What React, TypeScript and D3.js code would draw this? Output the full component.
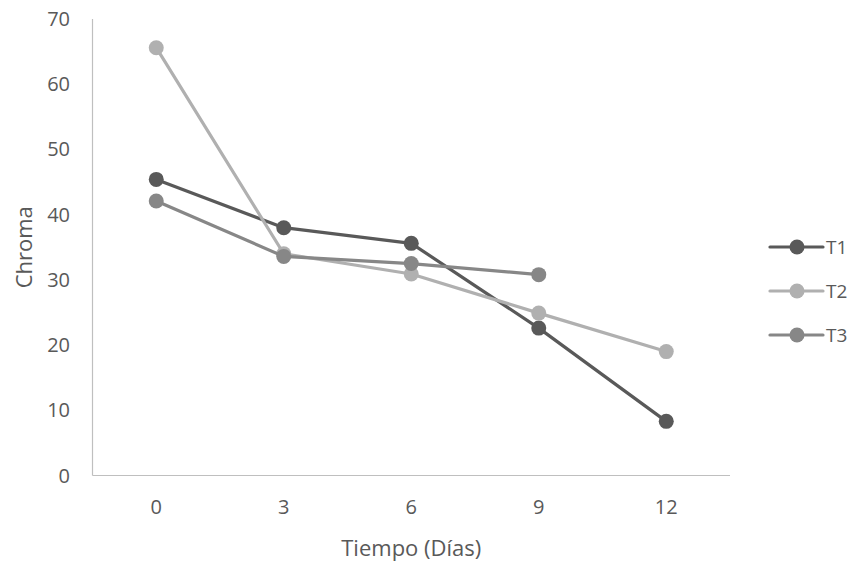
import React from "react";
import * as d3 from "d3";

const categories = ["0", "3", "6", "9", "12"];
const yTicks = [0, 10, 20, 30, 40, 50, 60, 70];
const seriesNames = ["T1", "T2", "T3"];
const t1Values: (number | null)[] = [45.4, 38.0, 35.6, 22.6, 8.3];
const t2Values: (number | null)[] = [65.6, 34.0, 30.9, 24.9, 19.0];
const t3Values: (number | null)[] = [42.1, 33.6, 32.5, 30.8, null];
const seriesColors = ["#595959", "#b0b0b0", "#878787"];

const W = 857;
const H = 563;
const left = 92.5;
const right = 730;
const top = 19;
const bottom = 475.5;
const FONT = "'Open Sans', 'DejaVu Sans', sans-serif";

export default function App() {
  const x = d3.scaleBand<string>().domain(categories).range([left, right]);
  const y = d3.scaleLinear().domain([0, 70]).range([bottom, top]);
  const cx = (c: string) => (x(c) as number) + x.bandwidth() / 2;
  const all = [t1Values, t2Values, t3Values];
  const line = d3
    .line<{ c: string; v: number | null }>()
    .defined((d) => d.v !== null)
    .x((d) => cx(d.c))
    .y((d) => y(d.v as number));

  const legendY = [247, 291, 335];

  return (
    <svg
      width={W}
      height={H}
      style={{ position: "absolute", left: 0, top: 0, background: "#fff" }}
      fontFamily={FONT}
    >
      <rect width={W} height={H} fill="#fff" />
      {/* axes */}
      <line x1={left} x2={left} y1={top} y2={bottom} stroke="#bfbfbf" strokeWidth={1.2} />
      <line x1={left} x2={right} y1={bottom} y2={bottom} stroke="#bfbfbf" strokeWidth={1.2} />
      {yTicks.map((t) => (
        <text
          key={t}
          x={70}
          y={y(t)}
          dy="0.35em"
          textAnchor="end"
          fontSize={20}
          fill="#595959"
        >
          {t}
        </text>
      ))}
      {categories.map((c) => (
        <text
          key={c}
          x={cx(c)}
          y={507}
          dy="0.35em"
          textAnchor="middle"
          fontSize={20}
          fill="#595959"
        >
          {c}
        </text>
      ))}
      <text
        x={(left + right) / 2}
        y={548}
        dy="0.35em"
        textAnchor="middle"
        fontSize={22}
        fill="#595959"
      >
        Tiempo (Días)
      </text>
      <text
        transform={`translate(24,${(top + bottom) / 2}) rotate(-90)`}
        dy="0.35em"
        textAnchor="middle"
        fontSize={22}
        fill="#595959"
      >
        Chroma
      </text>
      {/* series */}
      {all.map((vals, i) => {
        const data = categories.map((c, j) => ({ c, v: vals[j] }));
        return (
          <g key={i}>
            <path
              d={line(data) || ""}
              fill="none"
              stroke={seriesColors[i]}
              strokeWidth={3.2}
              strokeLinejoin="round"
            />
            {data
              .filter((d) => d.v !== null)
              .map((d) => (
                <circle
                  key={d.c}
                  cx={cx(d.c)}
                  cy={y(d.v as number)}
                  r={7.5}
                  fill={seriesColors[i]}
                />
              ))}
          </g>
        );
      })}
      {/* legend */}
      {seriesNames.map((n, i) => (
        <g key={n}>
          <line
            x1={770}
            x2={823}
            y1={legendY[i]}
            y2={legendY[i]}
            stroke={seriesColors[i]}
            strokeWidth={3.2}
            strokeLinecap="round"
          />
          <circle cx={797} cy={legendY[i]} r={7.5} fill={seriesColors[i]} />
          <text x={826} y={legendY[i]} dy="0.35em" fontSize={19} fill="#595959">
            {n}
          </text>
        </g>
      ))}
    </svg>
  );
}
